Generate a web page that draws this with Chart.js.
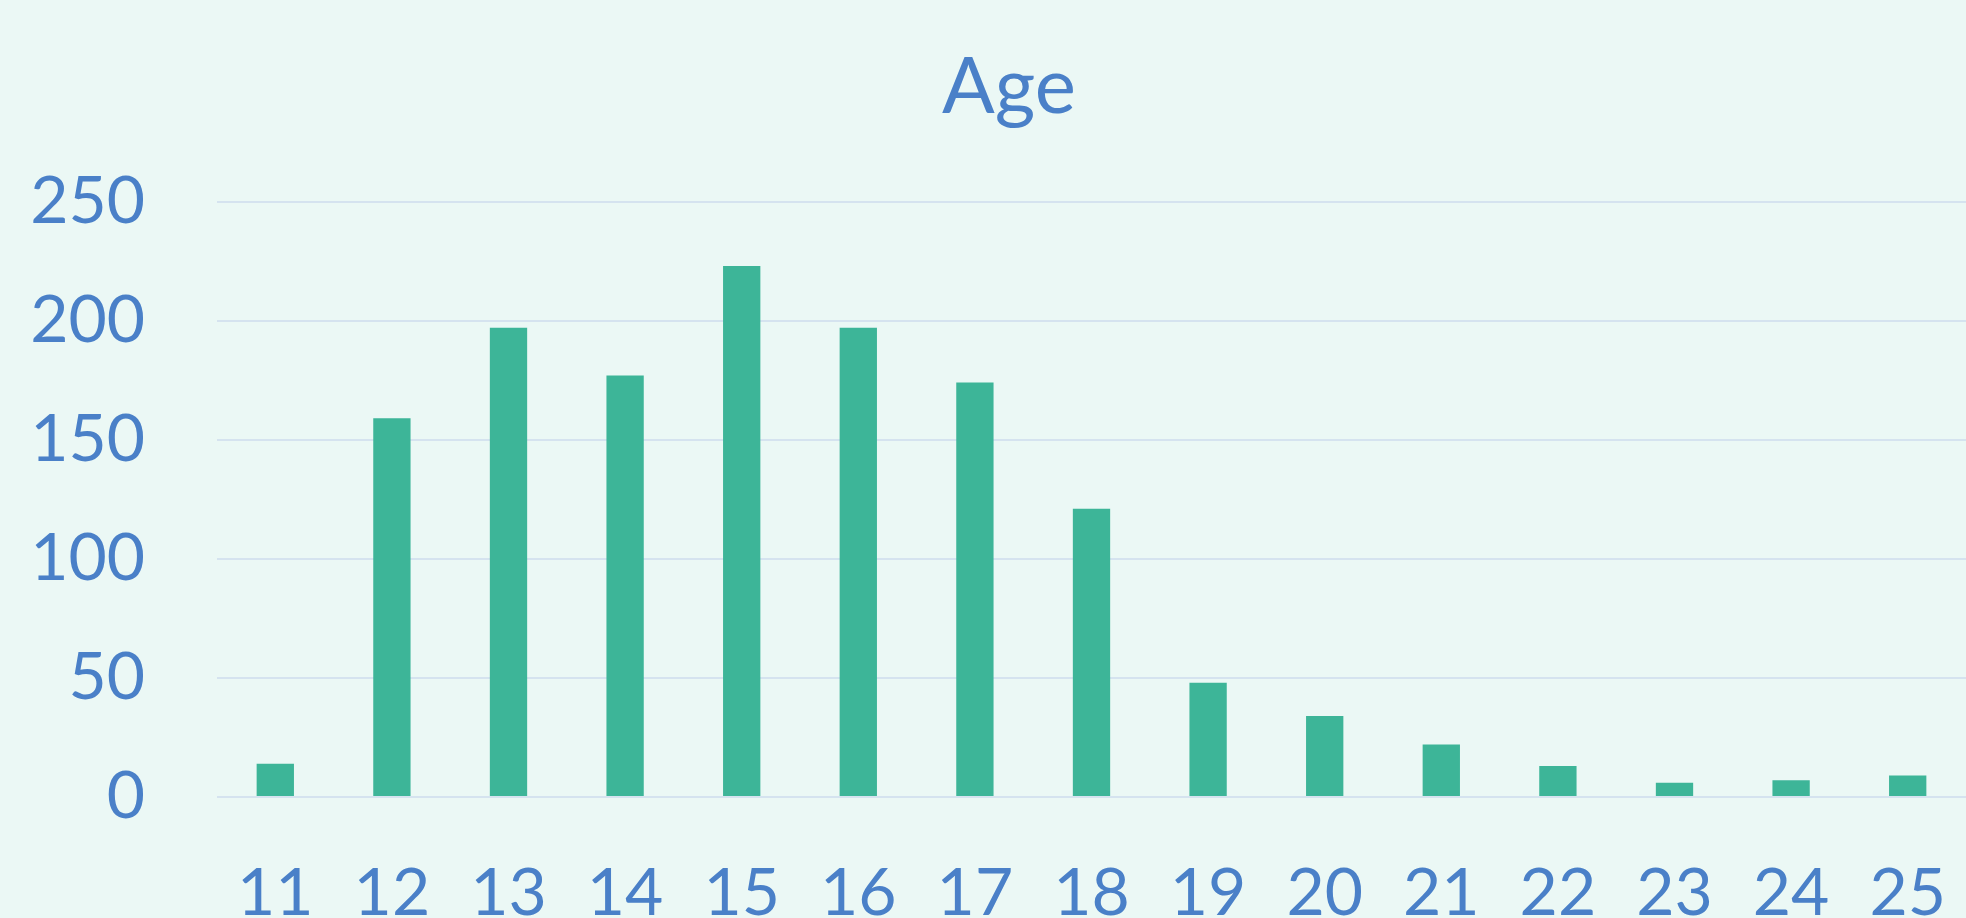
<!DOCTYPE html>
<html>
<head>
<meta charset="utf-8">
<title>Age</title>
<script src="https://cdn.jsdelivr.net/npm/chart.js@4"></script>
<style>
  html, body { margin: 0; padding: 0; background: #ebf8f5; }
  #wrap { width: 1966px; height: 918px; }
</style>
</head>
<body>
<div id="wrap"><canvas id="myChart"></canvas></div>
<script>
// age categories and counts
const ages = ['11', '12', '13', '14', '15', '16', '17', '18', '19', '20', '21', '22', '23', '24', '25'];
const counts = [14, 159, 197, 177, 223, 197, 174, 121, 48, 34, 22, 13, 6, 7, 9];
const yTicks = [0, 50, 100, 150, 200, 250];

const blue = '#4a80c8';
const green = '#3db598';

// the original title sits a little right of the page centre
const shiftTitle = {
    id: 'shiftTitle',
    afterLayout(chart) {
        if (chart.titleBlock) {
            chart.titleBlock.left += 26;
            chart.titleBlock.right += 26;
        }
    }
};

const ctx = document.getElementById('myChart').getContext('2d');

new Chart(ctx, {
    type: 'bar',
    data: {
        labels: ages,
        datasets: [{
            label: 'Age',
            data: counts,
            backgroundColor: green,
            borderWidth: 0,
            barPercentage: 1,
            categoryPercentage: 0.32
        }]
    },
    plugins: [shiftTitle],
    options: {
        responsive: true,
        maintainAspectRatio: false,
        animation: false,
        layout: { padding: 0 },
        plugins: {
            legend: { display: false },
            tooltip: { enabled: false },
            title: {
                display: true,
                text: 'Age',
                color: blue,
                font: { family: 'Lato', size: 78, weight: 'normal' },
                padding: { top: 41, bottom: 67 }
            }
        },
        scales: {
            x: {
                afterFit: scale => {
                    // let the bars run to the right edge
                    scale.paddingLeft = 0;
                    scale.paddingRight = 0;
                    scale.height = 121;
                },
                grid: { display: false, drawTicks: false },
                border: { display: false },
                ticks: {
                    color: blue,
                    font: { family: 'Lato', size: 66 },
                    padding: 57,
                    maxRotation: 0,
                    autoSkip: false
                }
            },
            y: {
                min: 0,
                max: yTicks[yTicks.length - 1],
                afterBuildTicks: scale => {
                    scale.ticks = yTicks.map(v => ({ value: v }));
                },
                afterFit: scale => {
                    scale.width = 217;
                    scale.paddingTop = 0;
                    scale.paddingBottom = 0;
                },
                grid: { color: '#d5e3ef', lineWidth: 2, drawTicks: false },
                border: { display: false },
                ticks: {
                    color: blue,
                    font: { family: 'Lato', size: 66 },
                    padding: 72
                }
            }
        }
    }
});
</script>
</body>
</html>
